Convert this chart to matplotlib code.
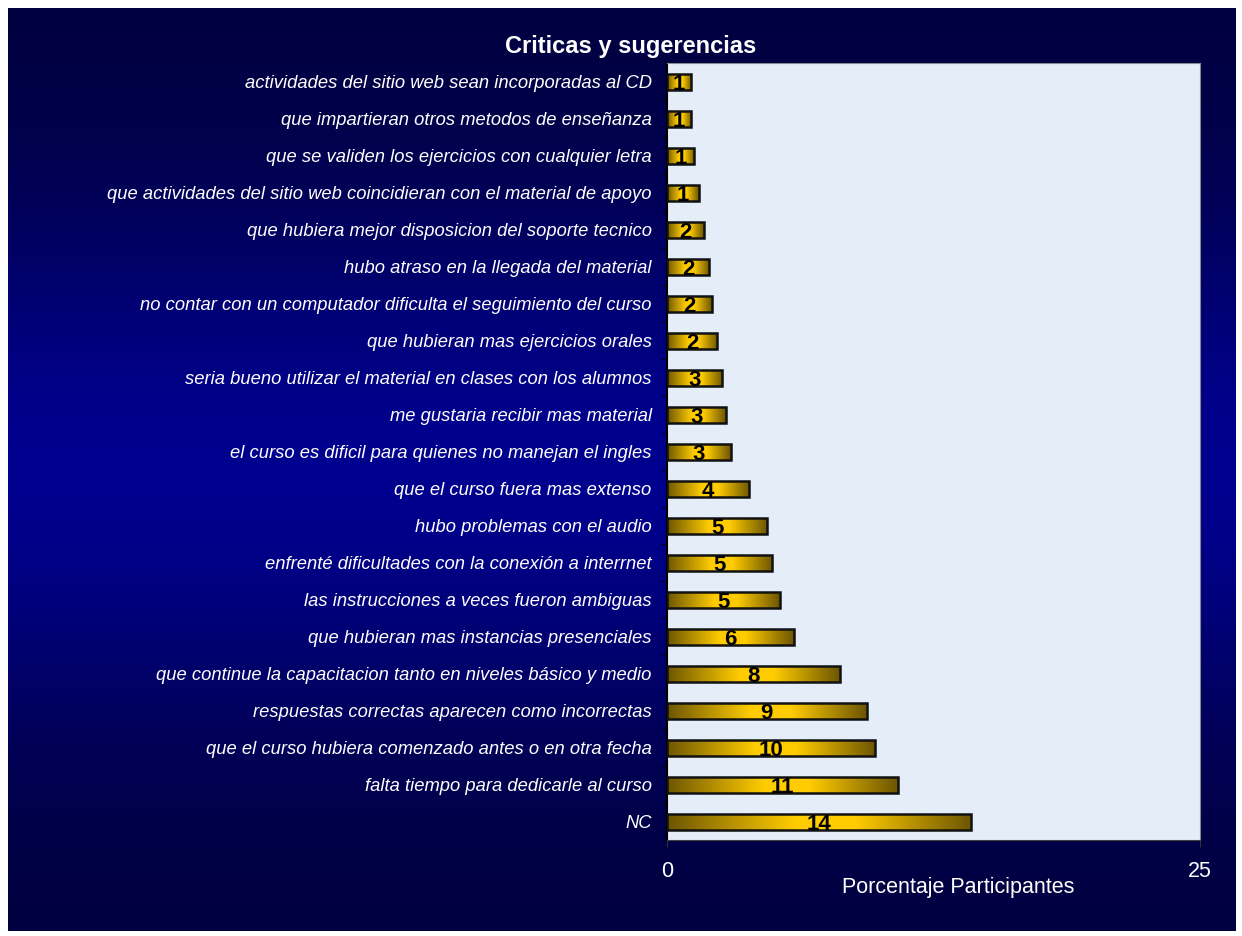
import numpy as np
import matplotlib.pyplot as plt
from matplotlib.colors import LinearSegmentedColormap

# Data (bottom to top)
categories = [
    'NC',
    'falta tiempo para dedicarle al curso',
    'que el curso hubiera comenzado antes o en otra fecha',
    'respuestas correctas aparecen como incorrectas',
    'que continue la capacitacion tanto en niveles básico y medio',
    'que hubieran mas instancias presenciales',
    'las instrucciones a veces fueron ambiguas',
    'enfrenté dificultades con la conexión a interrnet',
    'hubo problemas con el audio',
    'que el curso fuera mas extenso',
    'el curso es dificil para quienes no manejan el ingles',
    'me gustaria recibir mas material',
    'seria bueno utilizar el material en clases con los alumnos',
    'que hubieran mas ejercicios orales',
    'no contar con un computador dificulta el seguimiento del curso',
    'hubo atraso en la llegada del material',
    'que hubiera mejor disposicion del soporte tecnico',
    'que actividades del sitio web coincidieran con el material de apoyo',
    'que se validen los ejercicios con cualquier letra',
    'que impartieran otros metodos de enseñanza',
    'actividades del sitio web sean incorporadas al CD',
]
values = [14.27, 10.83, 9.76, 9.37, 8.11, 5.94, 5.30, 4.94, 4.71, 3.85,
          2.99, 2.75, 2.58, 2.35, 2.10, 1.97, 1.72, 1.48, 1.27, 1.13, 1.13]

plt.rcParams['font.family'] = ['Liberation Sans', 'DejaVu Sans']

fig = plt.figure(figsize=(12.42, 9.36), dpi=100, facecolor='white')

# dark blue background with vertical gradient
bg = fig.add_axes([8 / 1242, 5 / 936, 1228 / 1242, 923 / 936])
t = np.linspace(0, 1, 256)
shade = 0.24 + 0.32 * np.exp(-((t - 0.5) / 0.28) ** 2)
grad = np.zeros((256, 2, 3))
grad[:, :, 2] = shade[:, None]
bg.imshow(grad, aspect='auto', extent=[0, 1, 0, 1])
bg.set_axis_off()

ax = fig.add_axes([667 / 1242, 1 - 840 / 936, 533 / 1242, 777 / 936])
ax.set_facecolor('#e5eef8')

y = np.arange(len(categories))
h = 0.43
gold = LinearSegmentedColormap.from_list(
    'gold', [(0, '#6e5600'), (0.42, '#ffcc00'), (0.62, '#ffcc00'), (1, '#6e5600')])
gx = np.linspace(0, 1, 200)[None, :]
bars = ax.barh(y, values, height=h, facecolor='none', edgecolor='#111111', linewidth=1.8, zorder=3)
for b, v, yy in zip(bars, values, y):
    im = ax.imshow(gx, cmap=gold, aspect='auto', extent=[0, v, yy - h / 2, yy + h / 2], zorder=2)
    im.set_clip_path(b)
    ax.text(v / 2, yy - 0.06, '%.0f' % v, ha='center', va='center', fontsize=16,
            fontweight='bold', color='black', zorder=4)

ax.set_xlim(0, 25)
ax.set_ylim(-0.49, 20.51)
ax.set_xticks([0, 25])
ax.tick_params(axis='x', colors='white', labelsize=15.5, length=5, pad=10)
ax.tick_params(axis='x', color='#333333')
ax.set_yticks(y)
ax.set_yticklabels(categories, fontsize=13.2, style='italic', color='white')
ax.tick_params(axis='y', length=0, pad=11)
ax.set_yticks(np.arange(0.5, 20.5, 1), minor=True)
ax.tick_params(axis='y', which='minor', length=4, color='black')
ax.set_xlabel('Porcentaje Participantes', color='white', fontsize=15.5)
ax.xaxis.set_label_coords(291 / 533, -37 / 777)
for s in ['top', 'right']:
    ax.spines[s].set_color('#888888')
ax.spines['bottom'].set_color('#444444')
ax.spines['left'].set_color('black')
ax.spines['left'].set_linewidth(1.5)

fig.text(631 / 1242, 1 - 46 / 936, 'Criticas y sugerencias', ha='center', va='center',
         fontsize=17, fontweight='bold', color='white')

fig.savefig('out.png', dpi=100, facecolor='white')
